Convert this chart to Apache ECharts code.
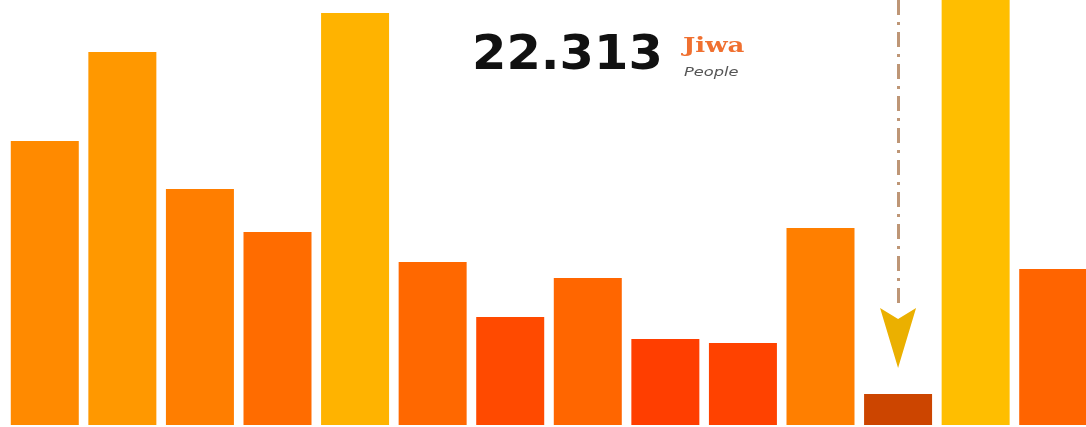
<!DOCTYPE html>
<html><head><meta charset="utf-8">
<script src="https://cdn.jsdelivr.net/npm/echarts@6/dist/echarts.min.js"></script>
<style>html,body{margin:0;padding:0;background:#fff;overflow:hidden}#c{width:1092px;height:427px}</style>
</head><body><div id="c"></div>
<script>
const categories = ['1','2','3','4','5','6','7','8','9','10','11','12','13','14'];
const values = [284, 373, 236, 193, 412, 163, 108, 147, 86, 82, 197, 31, 450, 156];
const colors = ['#FF8A00','#FF9800','#FF7E00','#FF6C00','#FFB300','#FF6800','#FF4A00','#FF6600','#FF3E00','#FF4200','#FF7F00','#CC4500','#FFBE00','#FF6400'];
const arrowCategory = '12';
const arrowTopValue = 425;
const arrowLineEnd = 115;
const arrowHeadValue = 87;
const bigNumber = '22.313';

const chart = echarts.init(document.getElementById('c'));
chart.setOption({
  animation: false,
  grid: {left: 6, right: 0, top: 0, bottom: 2},
  xAxis: {type: 'category', data: categories, show: false},
  yAxis: {type: 'value', min: 0, max: 425, show: false},
  series: [
    {
      type: 'bar',
      barWidth: 68,
      data: values.map((v, i) => ({value: v, itemStyle: {color: colors[i]}}))
    },
    {
      type: 'scatter',
      data: [[arrowCategory, arrowHeadValue]],
      symbol: 'path://M0,0 L18,60 L36,0 L18,11 Z',
      symbolSize: [36, 60],
      itemStyle: {color: '#EBB000', opacity: 1},
      z: 5,
      markLine: {
        silent: true,
        symbol: ['none', 'none'],
        label: {show: false},
        lineStyle: {color: '#BE9676', width: 3, type: [15, 7, 3, 7], opacity: 1},
        data: [[{coord: [arrowCategory, arrowTopValue]}, {coord: [arrowCategory, arrowLineEnd]}]]
      }
    }
  ],
  graphic: [
    {type: 'text', left: 472, top: 33, scaleX: 1.03, style: {text: bigNumber, font: 'bold 48px "DejaVu Sans"', fill: '#111'}},
    {type: 'text', left: 683, top: 37, scaleX: 1.3, style: {text: 'Jiwa', font: 'bold 20px "DejaVu Serif"', fill: '#F07030'}},
    {type: 'text', left: 684, top: 66, scaleX: 1.25, style: {text: 'People', font: 'italic 13px "DejaVu Sans"', fill: '#555'}}
  ]
});
</script></body></html>
